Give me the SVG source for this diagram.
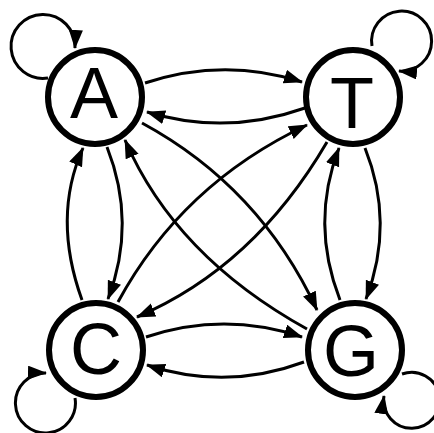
<svg xmlns="http://www.w3.org/2000/svg" width="434" height="433" viewBox="0 0 434 433">
<style>
.node circle{fill:#fff;stroke:#000;stroke-width:6}
.node text{font-family:"Liberation Sans",Arial,sans-serif;font-size:72px;text-anchor:middle;fill:#000}
.edges path{fill:none;stroke:#000;stroke-width:3;marker-end:url(#ah)}
</style>
<defs>
<marker id="ah" markerUnits="userSpaceOnUse" markerWidth="20" markerHeight="16" refX="18" refY="7" orient="auto">
<path d="M0,0 L19,7 L0,14 z" fill="#000"/>
</marker>
</defs>
<rect width="434" height="433" fill="#fff"/>
<g class="edges">
<path d="M145,83 Q224,57 302,82"/>
<path d="M305,108 Q226,136 147,112"/>
<path d="M146,337 Q224,311 302,337"/>
<path d="M304,362 Q226,391 147,365"/>
<path d="M82,300 Q52,217 83,148"/>
<path d="M107,147 Q137,223 108,299"/>
<path d="M365,148 Q395,223 366,299"/>
<path d="M340,300 Q310,223 339,148"/>
<path d="M142,123 Q260,187 317,310"/>
<path d="M307,329 Q175,256 125,140"/>
<path d="M118,302 Q182,184 307,125"/>
<path d="M327,142 Q254,267 137,317"/>
<path d="M48,78 A32,32 0 1 1 75,48"/>
<path d="M372,46 A30,30 0 1 1 399,71"/>
<path d="M75,398 A30,30 0 1 1 46,373"/>
<path d="M402,374 A28,28 0 1 1 384,396"/>
</g>
<g id="A" class="node"><circle cx="95" cy="97" r="47"/><text x="94" y="118">A</text></g>
<g id="T" class="node"><circle cx="353" cy="97" r="47"/><text x="352" y="128">T</text></g>
<g id="C" class="node"><circle cx="96" cy="350" r="47"/><text x="96" y="374">C</text></g>
<g id="G" class="node"><circle cx="355" cy="350" r="47"/><text x="351" y="376">G</text></g>
</svg>
